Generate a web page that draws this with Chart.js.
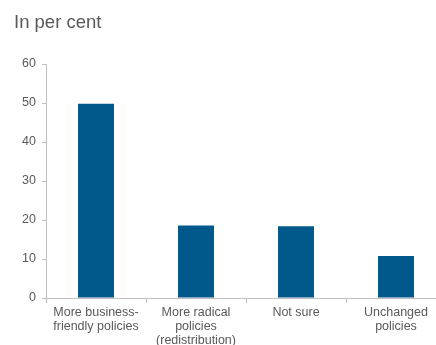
<!DOCTYPE html>
<html>
<head>
<meta charset="utf-8">
<script src="https://cdn.jsdelivr.net/npm/chart.js@4"></script>
<style>
    html, body { margin: 0; padding: 0; background: #fff; overflow: hidden; }
    #wrap { position: relative; width: 436px; height: 345px; overflow: hidden; }
    #title { position: absolute; left: 14px; top: 11px; font: 18.5px "Liberation Sans", Arial, sans-serif; color: #595959; }
    #box { position: absolute; left: 0; top: 0; width: 456px; height: 345px; }
</style>
</head>
<body>
<div id="wrap">
    <div id="box"><canvas id="chart"></canvas></div>
    <div id="title">In per cent</div>
</div>
<script>
const categories = [
    ['More business-', 'friendly policies'],
    ['More radical', 'policies', '(redistribution)'],
    ['Not sure'],
    ['Unchanged', 'policies']
];
const values = [49.8, 18.6, 18.4, 10.8];
const yTicks = [0, 10, 20, 30, 40, 50, 60];

const axisColor = '#bfbfbf';
const textColor = '#595959';
const font = { family: '"Liberation Sans", Arial, sans-serif', size: 12.5, lineHeight: 1.12 };

new Chart(document.getElementById('chart'), {
    type: 'bar',
    data: {
        labels: categories,
        datasets: [{
            data: values,
            backgroundColor: '#00588b',
            barPercentage: 0.36,
            categoryPercentage: 1
        }]
    },
    options: {
        responsive: true,
        maintainAspectRatio: false,
        animation: false,
        layout: { padding: { top: 64, right: 10, left: 0, bottom: 0 } },
        plugins: { legend: { display: false }, tooltip: { enabled: false } },
        scales: {
            x: {
                grid: { offset: true, drawOnChartArea: false, tickLength: 5, color: axisColor },
                border: { color: axisColor },
                ticks: { color: textColor, font: font, maxRotation: 0, autoSkip: false, padding: 3 },
                afterFit: (s) => { s.height = 47; }
            },
            y: {
                min: 0,
                max: 60,
                afterBuildTicks: (s) => { s.ticks = yTicks.map(v => ({ value: v })); },
                grid: { drawOnChartArea: false, tickLength: 4, color: axisColor },
                border: { color: axisColor },
                ticks: { color: textColor, font: font, padding: 6 },
                afterFit: (s) => { s.width = 46; }
            }
        }
    }
});
</script>
</body>
</html>
